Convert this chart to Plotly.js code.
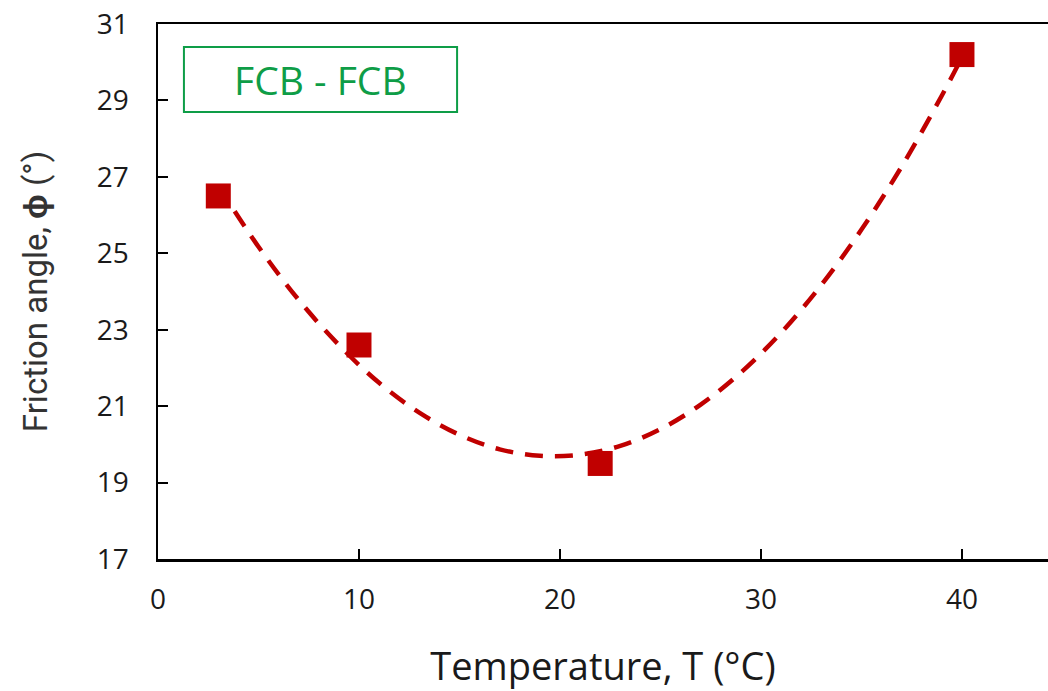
<!DOCTYPE html>
<html>
<head>
<meta charset="utf-8">
<script src="https://cdn.plot.ly/plotly-3.0.1.min.js"></script>
<style>html,body{margin:0;padding:0;background:#fff;}#chart{width:1048px;height:691px;}</style>
</head>
<body>
<div id="chart"></div>
<script>
// Measured data points
var tempC = [3, 10, 22, 40];
var frictionAngle = [26.5, 22.6, 19.5, 30.2];

// Dashed trend curve
var trendT = [3, 5, 7, 9, 11, 13, 15, 17, 19, 21, 23, 25, 27, 29, 31, 33, 35, 37, 39, 40];
var trendPhi = [26.77, 25.17, 23.78, 22.60, 21.61, 20.83, 20.25, 19.87, 19.70, 19.73, 19.96, 20.40, 21.04, 21.88, 22.92, 24.17, 25.62, 27.27, 29.13, 30.13];

var xTicks = [0, 10, 20, 30, 40];
var yTicks = [17, 19, 21, 23, 25, 27, 29, 31];
var labelText = "FCB - FCB";

var red = "#c00000";
var green = "#0e9d47";

var traces = [
  {
    x: trendT, y: trendPhi, mode: "lines", type: "scatter",
    line: {color: red, width: 4.5, dash: "18px,12px", shape: "spline"},
    hoverinfo: "skip", showlegend: false
  },
  {
    x: tempC, y: frictionAngle, mode: "markers", type: "scatter",
    marker: {symbol: "square", size: 25, color: red},
    showlegend: false
  }
];

var layout = {
  width: 1048, height: 691,
  margin: {l: 158, r: 0, t: 24, b: 132},
  paper_bgcolor: "#fff", plot_bgcolor: "#fff",
  font: {family: "'Open Sans', Roboto, sans-serif", color: "#1a1a1a"},
  showlegend: false,
  xaxis: {
    range: [0, 44.28], tickvals: xTicks, ticktext: xTicks.map(String),
    showgrid: false, zeroline: false,
    showline: true, linecolor: "#000", linewidth: 2.5, mirror: true,
    ticks: "inside", ticklen: 10, tickwidth: 2, tickcolor: "#000",
    ticklabelstandoff: 14,
    tickfont: {size: 28, family: "'Open Sans', sans-serif"},
    title: {text: "Temperature, T (°C)", font: {size: 38, family: "'Open Sans', sans-serif"}, standoff: 38}
  },
  yaxis: {
    range: [17, 31], tickvals: yTicks, ticktext: yTicks.map(String),
    showgrid: false, zeroline: false,
    showline: true, linecolor: "#000", linewidth: 2.5,
    ticks: "inside", ticklen: 10, tickwidth: 2, tickcolor: "#000",
    ticklabelstandoff: 21,
    tickfont: {size: 28, family: "'Open Sans', sans-serif"},
    title: {text: "Friction angle, <b>ϕ</b> (°)", font: {size: 33, family: "Roboto, sans-serif", color: "#333"}, standoff: 40}
  },
  shapes: [
    {type: "rect", xref: "x", yref: "y", x0: 1.29, x1: 14.88, y0: 28.70, y1: 30.40,
     line: {color: green, width: 2}, fillcolor: "rgba(0,0,0,0)"}
  ],
  annotations: [
    {xref: "x", yref: "y", x: 8.08, y: 29.55, text: labelText, showarrow: false,
     font: {size: 39, color: green, family: "'Open Sans', sans-serif"}}
  ]
};

Plotly.newPlot("chart", traces, layout, {displayModeBar: false, staticPlot: true});
</script>
</body>
</html>
